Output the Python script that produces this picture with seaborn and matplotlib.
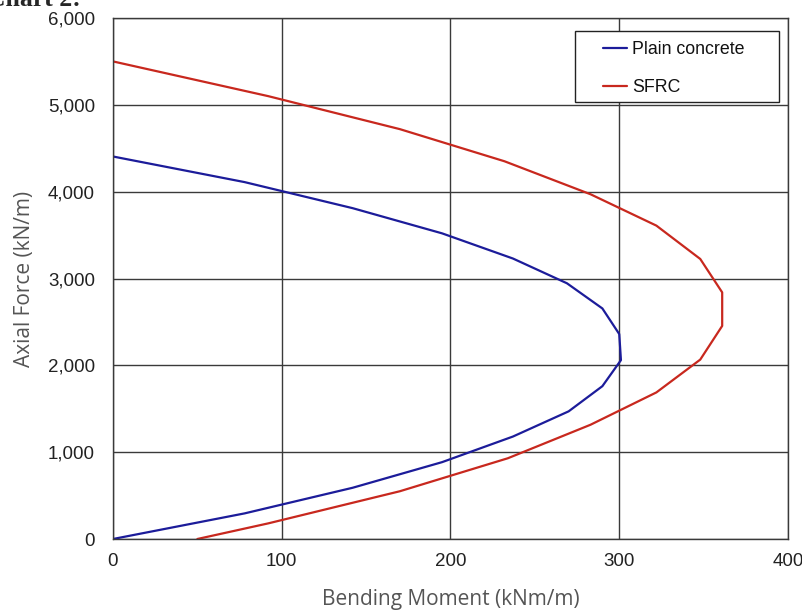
import matplotlib
matplotlib.use("Agg")
import matplotlib.pyplot as plt
import seaborn as sns
import pandas as pd
from matplotlib.ticker import FuncFormatter
from matplotlib.lines import Line2D
from matplotlib.patches import Rectangle

# ---- data ----
plain_moment = [0, 78, 142, 195, 237, 270, 290, 301, 300, 290, 269, 237, 195, 142, 78, 0]
plain_axial = [0, 295, 590, 885, 1180, 1470, 1760, 2060, 2360, 2655, 2945, 3230, 3520, 3810, 4110, 4405]
sfrc_moment = [50, 92, 170, 234, 283, 322, 348, 361, 361, 348, 322, 283, 232, 170, 92, 0]
sfrc_axial = [0, 180, 550, 930, 1316, 1688, 2066, 2454, 2840, 3225, 3609, 3970, 4350, 4720, 5100, 5500]
series_names = ["Plain concrete", "SFRC"]
x_ticks = [0, 100, 200, 300, 400]
y_ticks = [0, 1000, 2000, 3000, 4000, 5000, 6000]

df = pd.concat([
    pd.DataFrame({"moment": plain_moment, "axial": plain_axial, "series": series_names[0]}),
    pd.DataFrame({"moment": sfrc_moment, "axial": sfrc_axial, "series": series_names[1]}),
], ignore_index=True)

colors = {series_names[0]: "#1c1c9a", series_names[1]: "#c8281e"}

sns.set_style("white")
plt.rcParams["font.family"] = ["Liberation Sans", "DejaVu Sans"]

fig = plt.figure(figsize=(8.03, 6.12), dpi=100)
ax = fig.add_axes([113/803, 1-539/612, (788-113)/803, (539-18)/612])

sns.lineplot(data=df, x="moment", y="axial", hue="series", sort=False,
             estimator=None, palette=colors, linewidth=1.6, ax=ax, legend=False)

ax.set_xlim(0, 400)
ax.set_ylim(0, 6000)
ax.set_xticks(x_ticks)
ax.set_yticks(y_ticks)
ax.yaxis.set_major_formatter(FuncFormatter(lambda v, p: f"{int(v):,}"))
ax.grid(True, color="#3a3a3a", linewidth=1.0)
ax.set_axisbelow(True)
for s in ax.spines.values():
    s.set_color("#3a3a3a")
    s.set_linewidth(1.0)
ax.tick_params(axis="both", which="major", length=6, width=1, color="#555555",
               labelsize=13.5, labelcolor="#222222", direction="out")
ax.tick_params(axis="y", pad=7)
ax.tick_params(axis="x", pad=4)

ax.set_xlabel("Bending Moment (kNm/m)", fontsize=15, color="#555555",
              family=["Open Sans", "DejaVu Sans"], labelpad=14)
ax.set_ylabel("Axial Force (kN/m)", fontsize=15, color="#555555",
              family=["Open Sans", "DejaVu Sans"], labelpad=9)

# legend box (Excel-style wide frame)
ax.add_patch(Rectangle((575/803, 1-102/612), (779-575)/803, (102-31)/612,
                       transform=fig.transFigure, fill=True, facecolor="white",
                       edgecolor="#222222", linewidth=1.0, zorder=4, clip_on=False))
handles = [Line2D([], [], color=colors[n], lw=1.6) for n in series_names]
leg = ax.legend(handles, series_names, loc="upper left",
                bbox_to_anchor=(603/803, 1-41/612), bbox_transform=fig.transFigure,
                frameon=False, fontsize=12.8, handlelength=1.35, handletextpad=0.3,
                labelspacing=1.2, borderpad=0, borderaxespad=0)
for t in leg.get_texts():
    t.set_color("#111111")
leg.set_zorder(6)

fig.text(-0.016, 1.0, "Chart 2:", fontsize=18.5, fontweight="bold",
         family=["Liberation Serif", "DejaVu Serif"], va="center", ha="left")

fig.savefig("out.png", dpi=100)
